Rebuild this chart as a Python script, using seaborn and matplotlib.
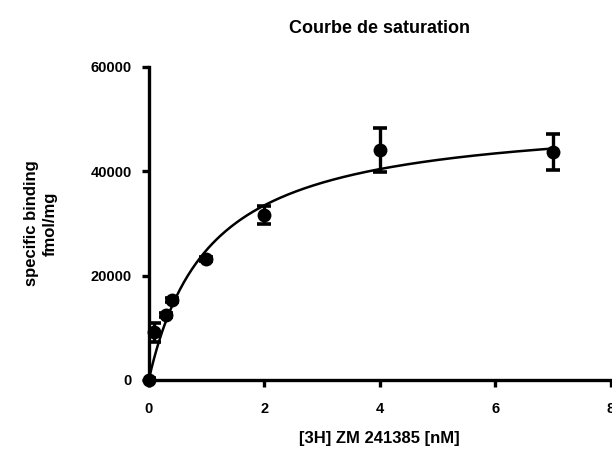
import numpy as np
import pandas as pd
import matplotlib
matplotlib.use("Agg")
import matplotlib.pyplot as plt
import seaborn as sns

# Radioligand concentration (nM) and specific binding (fmol/mg), mean +/- SEM
concentration = [0.0, 0.1, 0.3, 0.4, 1.0, 2.0, 4.0, 7.0]
binding = [0, 9100, 12400, 15400, 23100, 31600, 44100, 43700]
sem = [300, 1800, 400, 400, 400, 1800, 4250, 3400]

# One-site specific binding fit: B = Bmax * x / (Kd + x)
bmax = 51000
kd = 1.05

x_ticks = [0, 2, 4, 6, 8]
y_ticks = [0, 20000, 40000, 60000]

sns.set_theme(style="ticks")
plt.rcParams["font.family"] = ["Liberation Sans", "DejaVu Sans"]
plt.rcParams["font.weight"] = "bold"
plt.rcParams["text.color"] = "black"
plt.rcParams["axes.labelcolor"] = "black"

fig = plt.figure(figsize=(6.12, 4.5), dpi=100)
ax = fig.add_axes([0.243, 0.1556, 0.755, 0.696])

points = pd.DataFrame({"conc": concentration, "bound": binding, "sem": sem})
grid = np.linspace(0, max(concentration), 300)
fit = pd.DataFrame({"conc": grid, "bound": bmax * grid / (kd + grid)})

sns.lineplot(data=fit, x="conc", y="bound", color="black", linewidth=1.8, ax=ax)
ax.errorbar(points["conc"], points["bound"], yerr=points["sem"], fmt="none",
            ecolor="black", elinewidth=2.4, capsize=4.8, capthick=2.6, zorder=3)
sns.scatterplot(data=points, x="conc", y="bound", color="black", s=100,
                edgecolor="black", linewidth=0, ax=ax, zorder=4, clip_on=False)

ax.set_xlim(0, 8)
ax.set_ylim(0, 60000)
ax.set_xticks(x_ticks)
ax.set_yticks(y_ticks)
ax.set_xticklabels([str(t) for t in x_ticks])
ax.set_yticklabels([str(t) for t in y_ticks])

sns.despine(ax=ax)
for side in ("left", "bottom"):
    ax.spines[side].set_linewidth(2.4)
    ax.spines[side].set_color("black")
ax.tick_params(axis="both", direction="out", length=5, width=2.4, color="black",
               labelsize=10.5, labelcolor="black")
ax.tick_params(axis="x", pad=11)
ax.tick_params(axis="y", pad=7)
for lab in ax.get_xticklabels() + ax.get_yticklabels():
    lab.set_fontweight("bold")

ax.set_xlabel("[3H] ZM 241385 [nM]", fontsize=12, fontweight="bold",
              labelpad=11, color="black")
ax.set_ylabel("specific binding\nfmol/mg", fontsize=12, fontweight="bold",
              labelpad=24, linespacing=1.25, color="black")
ax.set_title("Courbe de saturation", fontsize=13, fontweight="bold", pad=24,
             color="black")

fig.savefig("out.png", dpi=100)
